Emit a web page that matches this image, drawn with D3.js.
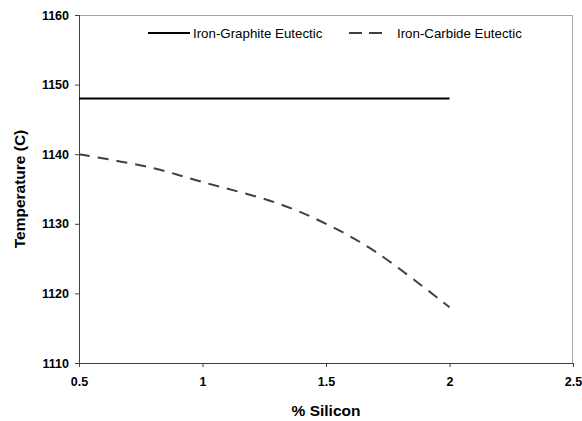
<!DOCTYPE html>
<html>
<head>
<meta charset="utf-8">
<script src="https://cdn.jsdelivr.net/npm/d3@7"></script>
<style>
  body { margin: 0; background: #fff; }
  text { font-family: "Liberation Sans", Arial, sans-serif; }
</style>
</head>
<body>
<div id="chart"></div>
<script>
// Eutectic temperature vs silicon content

const MARGINS = { TOP: 15, BOTTOM: 58, LEFT: 79, RIGHT: 9 }
const WIDTH = 582 - MARGINS.LEFT - MARGINS.RIGHT
const HEIGHT = 421 - MARGINS.TOP - MARGINS.BOTTOM

// data
const graphiteSi = [0.5, 2]
const graphiteTemp = [1148, 1148]
const carbideSi = [0.5, 0.8, 1.0, 1.3, 1.5, 1.7, 2.0]
const carbideTemp = [1140, 1138, 1136, 1133, 1130, 1126, 1118]
const xTicks = [0.5, 1, 1.5, 2, 2.5]
const yTicks = [1110, 1120, 1130, 1140, 1150, 1160]
const seriesNames = ["Iron-Graphite Eutectic", "Iron-Carbide Eutectic"]

const svg = d3.select("#chart").append("svg")
    .attr("width", 582)
    .attr("height", 421)

const g = svg.append("g")
    .attr("transform", `translate(${MARGINS.LEFT}, ${MARGINS.TOP})`)

const x = d3.scaleLinear().domain([0.5, 2.5]).range([0, WIDTH])
const y = d3.scaleLinear().domain([1110, 1160]).range([HEIGHT, 0])

// frame (top + right in light gray)
g.append("path")
    .attr("d", `M0,0.5H${WIDTH - 0.5}V${HEIGHT}`)
    .attr("fill", "none")
    .attr("stroke", "#a6a6a6")
    .attr("stroke-width", 1)

// axes
const xAxis = d3.axisBottom(x).tickValues(xTicks).tickSize(4).tickPadding(10)
    .tickFormat(d3.format("~g"))
const gx = g.append("g")
    .attr("transform", `translate(0, ${HEIGHT})`)
    .call(xAxis)
gx.select(".domain").attr("d", `M0,0.5H${WIDTH}`)

const yAxis = d3.axisLeft(y).tickValues(yTicks).tickSize(4).tickPadding(6)
    .tickFormat(d3.format("d"))
const gy = g.append("g").call(yAxis)
gy.select(".domain").attr("d", `M0.5,0V${HEIGHT}`)

svg.selectAll(".domain, .tick line").attr("stroke", "#404040")
svg.selectAll(".tick text")
    .attr("font-size", "12.5px")
    .attr("font-weight", "bold")
    .attr("fill", "#000")
    .attr("font-family", "Liberation Sans, Arial, sans-serif")

// axis titles
svg.append("text")
    .attr("x", MARGINS.LEFT + WIDTH / 2)
    .attr("y", 416)
    .attr("text-anchor", "middle")
    .attr("font-size", "15.5px")
    .attr("font-weight", "bold")
    .text("% Silicon")

svg.append("text")
    .attr("transform", `translate(25, ${MARGINS.TOP + HEIGHT / 2}) rotate(-90)`)
    .attr("text-anchor", "middle")
    .attr("font-size", "15.5px")
    .attr("font-weight", "bold")
    .text("Temperature (C)")

// lines
const graphite = graphiteSi.map((d, i) => ({ si: d, t: graphiteTemp[i] }))
const carbide = carbideSi.map((d, i) => ({ si: d, t: carbideTemp[i] }))

const line = d3.line().x(d => x(d.si)).y(d => y(d.t))

g.append("path")
    .datum(graphite)
    .attr("d", line)
    .attr("fill", "none")
    .attr("stroke", "#000")
    .attr("stroke-width", 2)

g.append("path")
    .datum(carbide)
    .attr("d", line.curve(d3.curveCatmullRom.alpha(0.5)))
    .attr("fill", "none")
    .attr("stroke", "#404040")
    .attr("stroke-width", 2)
    .attr("stroke-dasharray", "11,8")

// legend
const legend = svg.append("g").attr("class", "legend")
const legendX = [148, 349]
seriesNames.forEach((name, i) => {
    const row = legend.append("g").attr("transform", `translate(${legendX[i]}, 33)`)
    row.append("line")
        .attr("x1", 0).attr("x2", i == 0 ? 42 : 39)
        .attr("stroke", i == 0 ? "#000" : "#404040")
        .attr("stroke-width", 2)
        .attr("stroke-dasharray", i == 0 ? null : "13,7")
    row.append("text")
        .attr("x", i == 0 ? 45 : 48)
        .attr("y", 4.5)
        .attr("font-size", "13.3px")
        .text(name)
})
</script>
</body>
</html>
